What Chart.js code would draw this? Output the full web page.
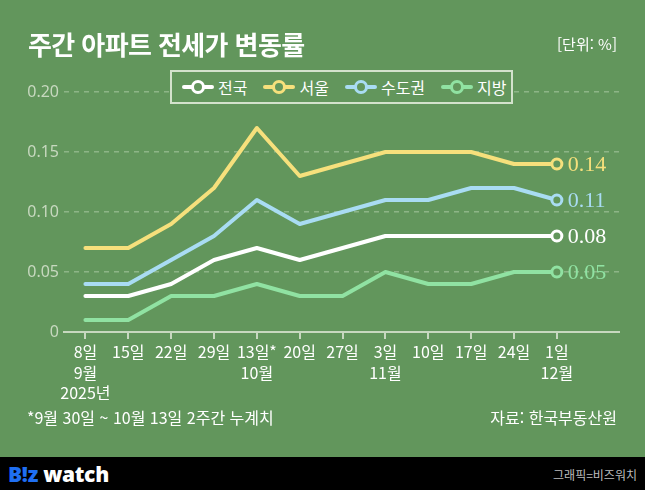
<!DOCTYPE html>
<html lang="ko">
<head>
<meta charset="utf-8">
<script src="https://cdn.jsdelivr.net/npm/chart.js@4"></script>
<style>
  html, body { margin: 0; padding: 0; }
  body {
    width: 645px; height: 490px; position: relative; overflow: hidden;
    background: #62965c; font-family: "Noto Sans CJK KR", "Noto Sans", sans-serif;
  }
  #wrap { position: absolute; left: 0; top: 0; width: 645px; height: 457px; }
  .title {
    position: absolute; left: 28px; top: 31px; color: #fff;
    font-size: 26px; font-weight: 700; letter-spacing: -0.6px; line-height: 1; white-space: nowrap;
  }
  .unit { position: absolute; right: 28px; top: 36px; color: #fff; font-size: 15px; line-height: 1; }
  .note { position: absolute; left: 27px; top: 409px; color: #fff; font-size: 16px; line-height: 1; white-space: nowrap; }
  .source { position: absolute; right: 28px; top: 409px; color: #fff; font-size: 16px; line-height: 1; white-space: nowrap; }
  #legend {
    position: absolute; left: 170px; top: 70px; width: 329px; height: 30px;
    border: 2px solid #d3e2cc; background: #62965c;
    display: flex; align-items: center; padding-left: 10px; box-sizing: content-box;
  }
  .item { display: flex; align-items: center; margin-right: 16px; color: #fff; font-size: 16px; white-space: nowrap; flex-shrink: 0; }
  .mark { position: relative; width: 32px; height: 14px; margin-right: 4px; flex-shrink: 0; }
  .mark .bar { position: absolute; left: 0; top: 5px; width: 32px; height: 4px; border-radius: 2px; }
  .mark .dot {
    position: absolute; left: 9px; top: 0; width: 8px; height: 8px;
    border: 3px solid; border-radius: 50%; background: #62965c;
  }
  .footer {
    position: absolute; left: 0; top: 457px; width: 645px; height: 33px; background: #000;
  }
  .logo { position: absolute; left: 8px; top: 3px; font-size: 21px; font-weight: 800; color: #fff; font-family: "Open Sans", "Noto Sans", sans-serif; letter-spacing: -0.3px; }
  .logo b { color: #1f6ff2; font-weight: 800; }
  .credit { position: absolute; right: 8px; top: 9px; font-size: 12px; color: #bdbdbd; }
</style>
</head>
<body>
<div id="wrap"><canvas id="chart"></canvas></div>
<div class="title">주간 아파트 전세가 변동률</div>
<div class="unit">[단위: %]</div>
<div id="legend"></div>
<div class="note">*9월 30일 ~ 10월 13일 2주간 누계치</div>
<div class="source">자료: 한국부동산원</div>
<div class="footer">
  <div class="logo"><b>B!z</b> watch</div>
  <div class="credit">그래픽=비즈워치</div>
</div>
<script>
const tickLabels = [
  ['8일', '9월', '2025년'], ['15일'], ['22일'], ['29일'], ['13일*', '10월'], ['20일'],
  ['27일'], ['3일', '11월'], ['10일'], ['17일'], ['24일'], ['1일', '12월']
];
const seriesNames = ['전국', '서울', '수도권', '지방'];
const national = [0.03, 0.03, 0.04, 0.06, 0.07, 0.06, 0.07, 0.08, 0.08, 0.08, 0.08, 0.08];
const seoul    = [0.07, 0.07, 0.09, 0.12, 0.17, 0.13, 0.14, 0.15, 0.15, 0.15, 0.14, 0.14];
const capital  = [0.04, 0.04, 0.06, 0.08, 0.11, 0.09, 0.10, 0.11, 0.11, 0.12, 0.12, 0.11];
const regions  = [0.01, 0.01, 0.03, 0.03, 0.04, 0.03, 0.03, 0.05, 0.04, 0.04, 0.05, 0.05];
const yTicks = [0, 0.05, 0.10, 0.15, 0.20];

const bg = '#62965c';
const colors = ['#ffffff', '#f6e07c', '#a9dcf3', '#90e2a2'];
const seriesValues = [national, seoul, capital, regions];

const last = tickLabels.length - 1;

const datasets = seriesValues.map((vals, i) => ({
  label: seriesNames[i],
  data: vals.map((v, j) => ({ x: j, y: v })),
  borderColor: colors[i],
  backgroundColor: bg,
  borderWidth: 4,
  borderCapStyle: 'round',
  borderJoinStyle: 'round',
  pointRadius: ctx => ctx.dataIndex === last ? 5 : 0,
  pointHoverRadius: ctx => ctx.dataIndex === last ? 5 : 0,
  pointBorderWidth: 3,
  pointBackgroundColor: bg,
  pointBorderColor: colors[i],
  tension: 0
}));

// value labels to the right of the last point
const endLabels = {
  id: 'endLabels',
  afterDatasetsDraw(chart) {
    const c = chart.ctx;
    c.save();
    c.font = '22px "Liberation Serif", serif';
    c.textBaseline = 'middle';
    c.textAlign = 'left';
    chart.data.datasets.forEach((ds, i) => {
      const pt = chart.getDatasetMeta(i).data[last];
      c.fillStyle = colors[i];
      c.fillText(seriesValues[i][last].toFixed(2), pt.x + 11, pt.y + 1);
    });
    c.restore();
  }
};

new Chart(document.getElementById('chart'), {
  type: 'line',
  data: { datasets },
  plugins: [endLabels],
  options: {
    responsive: true,
    maintainAspectRatio: false,
    animation: false,
    layout: { padding: { top: 92, right: 26, left: 0, bottom: 0 } },
    plugins: { legend: { display: false }, tooltip: { enabled: false } },
    scales: {
      x: {
        type: 'linear',
        min: -0.5,
        max: 12.45,
        afterBuildTicks: axis => { axis.ticks = tickLabels.map((_, i) => ({ value: i })); },
        afterFit: scale => { scale.height = 125; },
        ticks: {
          autoSkip: false,
          maxRotation: 0,
          padding: 3,
          color: '#ffffff',
          font: { family: '"Noto Sans CJK KR", sans-serif', size: 16, lineHeight: 1.28 },
          callback: v => tickLabels[v]
        },
        grid: { drawOnChartArea: false, drawTicks: true, tickLength: 7, color: '#c7d8bf', lineWidth: 2 },
        border: { display: true, color: '#c7d8bf', width: 2 }
      },
      y: {
        min: 0,
        max: 0.20,
        afterBuildTicks: axis => { axis.ticks = yTicks.map(v => ({ value: v })); },
        afterFit: scale => { scale.width = 64; },
        ticks: {
          padding: 5,
          color: '#c7d8bf',
          font: { family: '"Noto Sans", sans-serif', size: 16 },
          callback: v => v === 0 ? '0' : v.toFixed(2)
        },
        grid: {
          drawTicks: false,
          color: ctx => ctx.tick && ctx.tick.value === 0 ? 'rgba(0,0,0,0)' : '#8db587',
          lineWidth: 1.5
        },
        border: { display: false, dash: [5, 5] }
      }
    }
  }
});

// html legend, sits on top of the 0.20 gridline
const legend = document.getElementById('legend');
seriesNames.forEach((name, i) => {
  const item = document.createElement('div');
  item.className = 'item';
  item.innerHTML = '<div class="mark"><div class="bar" style="background:' + colors[i] +
    '"></div><div class="dot" style="border-color:' + colors[i] + '"></div></div>' + name;
  legend.appendChild(item);
});
</script>
</body>
</html>
